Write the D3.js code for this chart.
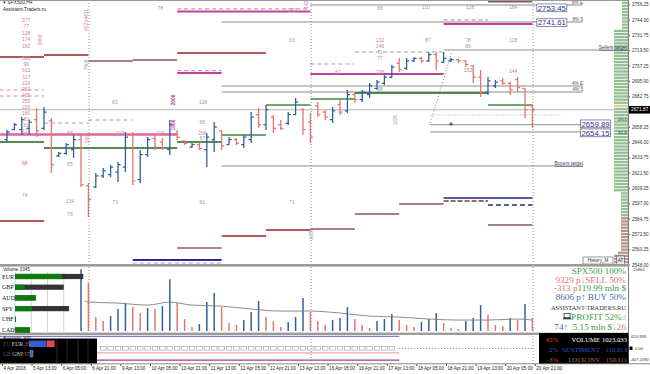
<!DOCTYPE html>
<html><head><meta charset="utf-8">
<script src="https://cdn.jsdelivr.net/npm/d3@7/dist/d3.min.js"></script>
<style>
html,body{margin:0;padding:0;background:#fff;overflow:hidden}
svg{display:block}
</style></head><body>
<svg id="chart" width="650" height="374" font-family="Liberation Sans, Arial, sans-serif"></svg>
<script>
// ================= DATA =================
const barOpen=[2648,2656,2656,2657,2664,2657,2663,2635,2637,2640,2648,2611,2610,2619,2620,2622,2626,2652,2616,2636,2649,2646,2640,2653,2647,2642,2644,2640,2648,2655,2644,2648,2644,2648,2668,2660,2666,2660,2661,2668,2672,2662,2675,2670,2664,2676,2671,2684,2680,2684,2689,2693,2698,2709,2705,2711,2713,2711,2716,2710,2711,2712,2711,2707,2698,2686,2691,2695,2693,2696,2689,2675];
const barHigh=[2655.7,2661.3,2666.1,2664,2673.3,2674.1,2665.3,2638.1,2645.3,2651.7,2651.7,2613.3,2621.3,2625.3,2627.7,2630.1,2654.1,2654.1,2639.7,2650.1,2651.7,2649.3,2663.7,2655.7,2647.7,2645.3,2645.3,2653.3,2662.1,2655.7,2650.1,2649.3,2651.7,2670.1,2673.3,2675.7,2667.7,2663.7,2670.1,2681.3,2673.3,2669.3,2678.1,2671.7,2674.1,2679.7,2687.7,2685.3,2687.7,2693.3,2695.7,2699.7,2707.7,2713.3,2713.3,2714.1,2714.1,2718.1,2718.1,2718.1,2713.3,2712.5,2711.7,2707.7,2703.7,2698.1,2695.7,2697.3,2694.1,2698.1,2689.3,2675.7];
const barLow=[2646.1,2655.7,2651.7,2652,2650.1,2655.7,2621.3,2634.1,2635.7,2633.3,2610.1,2586.1,2609.3,2617.3,2618.1,2614.1,2622.1,2611.7,2613.3,2634.1,2639.7,2639.7,2635.7,2647.7,2643.7,2641.3,2639.7,2626.1,2638.1,2639.7,2643.7,2643.7,2641.3,2645.3,2657.3,2655.7,2653.3,2655.7,2659.7,2667.7,2651.7,2645.3,2666.1,2663.7,2661.3,2667.7,2669.3,2677.3,2678.1,2681.3,2687.7,2691.7,2697.3,2702.1,2703.7,2710.1,2709.3,2710.1,2703.7,2709.3,2710.1,2709.3,2706.1,2693.3,2682.1,2683.7,2689.3,2691.7,2683.7,2686.1,2665.3,2657.3];
const barClose=[2654,2660,2664,2662,2655,2670,2628,2637,2644,2648,2612,2600,2619,2623,2626,2628,2650,2615,2636,2648,2642,2641,2660,2650,2645,2644,2641,2650,2658,2643,2648,2645,2650,2666,2660,2672,2657,2657,2668,2678,2656,2650,2668,2666,2671,2670,2684,2680,2686,2691,2694,2698,2706,2704,2711,2713,2711,2716,2711,2713,2712,2711,2708,2698,2686,2695,2694,2693,2688,2690,2672,2671.87];
const currentPrice=2671.87;

const volume=[6000,4000,5000,4500,7000,6500,11000,5000,4500,6000,15500,12000,3500,2500,3750,5500,7000,6000,4500,5750,5500,6250,13000,7000,3000,1000,1750,7250,9500,6000,2000,1500,2750,4750,7500,3500,2500,1000,2250,3500,8250,4750,2500,1500,2750,3250,6000,3000,1500,750,2500,3000,4250,2750,1500,1000,2250,3000,4500,2000,750,500,2500,3250,6500,4000,1500,1250,3250,2750,6750,3250];
const volumeDir=("dduudduuddu"+"ddduuu"+"dduduu"+"ddduuu"+"ddduuu"+"ddduuu"+"ddduuu"+"ddduuu"+"ddduuu"+"ddduuu"+"dddudud").split("");
const volumeMA=[[10.5,7500],[11,7250],[15,7000],[19,6500],[22,7250],[25,6500],[29,6250],[33,5500],[37,5000],[41,5000],[45,4500],[49,3750],[53,3500],[57,3000],[61,2750],[65,2750],[69,3000],[71,2750]];

const timeLabels=["4 Apr 2018","5 Apr 13:00","6 Apr 05:00","6 Apr 21:00","9 Apr 13:00","10 Apr 05:00","10 Apr 21:00","11 Apr 13:00","12 Apr 05:00","12 Apr 21:00","13 Apr 13:00","16 Apr 05:00","16 Apr 21:00","17 Apr 13:00","18 Apr 05:00","18 Apr 21:00","19 Apr 13:00","20 Apr 05:00","20 Apr 21:00"];
const priceTicks=[2756.25,2744.00,2731.75,2719.50,2707.25,2695.00,2682.75,2658.25,2646.00,2633.75,2621.50,2609.25,2597.00,2584.75,2572.50,2560.25,2548.00];

// horizontal level segments: [fromBar, toBar, price, style]
const levelSegments=[
 [-1,5,2714.1,"maroon"],[5,11,2715.7,"maroon"],[11,17,2710.9,"brown"],[17,23,2711.7,"brown"],[23,35,2717.3,"maroon"],
 [-1,5,2582.9,"maroon"],[23,29,2561.3,"brown"],[29,35,2570.9,"maroon"],[35,41,2575.7,"maroon"],[41,47,2576.5,"brown"],
 [47,53,2588.5,"brown"],[53,59,2596.5,"brown"],[59,65,2598.9,"brownDash"],[59,71,2601.3,"navy"],[65,71,2595.7,"navyDash"],
 [65,71,2579.7,"brown"],[17,29,2551.7,"navyThick"],[17,29,2549.3,"pinkDash"],
 [23,41,2750.5,"magenta"],[23,41,2752.6,"pinkDash"],[23,29,2701.3,"magenta"],[23,29,2703.2,"pinkDash"],
 [41,59,2700.5,"magenta"],[41,47,2708.5,"pinkDash"],[59,71,2740.5,"magenta"],[59,65,2743.8,"pinkDash"],
 [-1,23,2652.1,"pink"],[-1,5,2687.7,"pinkDash"],[-1,5,2682.9,"pinkDash"],[5,11,2661.3,"pinkDash"],[11,17,2663.7,"pinkDash"],
 [29,77.8,2742.1,"gray"],[41,77.8,2755.7,"gray"],[29,77.8,2690.9,"gray"],[29,77.8,2686.1,"gray"],
 [29,77.8,2626.9,"gray"],[59,84,2719.7,"gray"],[47,59,2718.1,"grayDash"],
 [57.2,77.8,2659.89,"gray"],[57.2,77.8,2654.15,"gray"],[57.2,75,2667.7,"grayDot"],
 [-1,5,2646.1,"dgreen"],[5,23,2641.3,"dgreen"],[23,29,2646.1,"dgreen"],[29,35,2651.7,"green"],
 [35,41,2675.7,"green"],[41,47,2680.5,"green"],[47,65,2685.3,"dgreen"],[65,71,2675.7,"green"],
 [65,71,2758.5,"brownThick"]
];
const diagonalLine=[[57.2,2661.3],[60.1,2718.1]];
const markerPoint=[60,2660.5];
const verticalMarks=[11.1,41.1,71.1];

const levelTags=[["8% E",2755.7],["8% 5",2742.1],["4% E",2690.9],["4% 5",2686.1]];
const priceBoxes=[[71.6,2753.45],[71.6,2741.61],[77.5,2659.89],[77.5,2654.15]];

// number annotations: [bar, price, text, colourKey]
const numberLabels=[
 [2.6,2743.7,"377","p"],[2.6,2738.9,"77","p"],[2.6,2733.3,"128","p"],[2.6,2728.5,"174","p"],[2.6,2722.9,"182","p"],
 [2.6,2713.3,"593","p"],[2.6,2708.5,"99","p"],[2.6,2703.7,"613","p"],[2.6,2698.1,"117","p"],[2.6,2693.3,"224","p"],
 [2.6,2688.5,"482","p"],[2.6,2683.7,"465","p"],[2.6,2678.9,"255","p"],[2.6,2674.1,"226","p"],[2.6,2669.3,"180","p"],
 [2.6,2664.5,"83","p"],[2.6,2659.7,"83","p"],[2.6,2654.9,"114","p"],
 [20.7,2753.3,"78","g"],[38.5,2751.7,"142","p"],[50.4,2753.3,"88","g"],[56.6,2754.1,"110","g"],[62.6,2754.1,"128","g"],[68.4,2754.1,"184","g"],
 [38.5,2727.7,"83","p"],[50.4,2727.7,"132","p"],[50.4,2722.9,"149","p"],[50.4,2718.1,"71","p"],[50.4,2713.3,"77","p"],
 [56.9,2727.7,"87","p"],[62.3,2727.7,"78","p"],[62.3,2722.9,"89","p"],[68.4,2727.7,"128","p"],
 [44.7,2702.1,"82","p"],[50.4,2702.1,"208","p"],[50.4,2688.5,"88","g"],[62.3,2703.7,"152","p"],[68.4,2702.9,"144","p"],
 [14.6,2678.1,"83","p"],[26.5,2678.1,"138","p"],[26.4,2662.1,"68","p"],[26.4,2653.3,"208","p"],[26.4,2649.3,"87","g"],
 [8.5,2653.3,"88","p"],[15.3,2653.3,"119","p"],[20.7,2653.3,"118","p"],
 [2.4,2629.3,"88","r"],[8.5,2628.5,"85","g"],[2.4,2603.7,"74","p"],[8.5,2598.9,"134","g"],[14.6,2598.1,"73","g"],
 [26.4,2598.1,"81","g"],[38.5,2598.1,"71","g"],[8.5,2588.5,"78","g"]
];
const verticalLabels=[
 [4.5,2727.7,"1993","p"],[10.7,2743.7,"#0214411","p"],[10.7,2707.7,"7906","g"],[22.4,2679.7,"2006","m"],
 [22.4,2659.7,"1006","m"],[10.8,2649.3,"1993","p"],[40.5,2756.0,"142","p"],[52.4,2663.7,"2/26","g"],[41.1,2571.7,"1/25","g"]
];

// volume profile rows (top price, step 2.5): width and side
const profileTop=2757.5, profileStep=2.5;
const profileWidth=[6,6,6,6,6,6,6,6,6,
 14,14,14,14,14,14,14,14,14,14,14,14,14,14,14,14,14,14,14,14,14,14,14,14,14,14,14,14,14,14,14,14,14,14,14,14,14,14,14,14,14,14,14,14,14,14,14,14,14,14,14,14,
 7,7,7,7,7,7,7,7, 7,7,7,7,7,7,7,7,7,7,7, 10,14,14,14,14];
const profileSide=("bbbbbbbbb"+"bbbbbbbbbbbbbbbbbbbbbbbb"+"h"+"bbbbbbbbbbbbbbbbbbbbbbbbbbb"+"bbbbbbbb"+"sssssssssss"+"sssss").split("");

// currency strength overlay
const currencies=["EUR","GBP","AUD","SPY","CHF","CAD"];
const currencyGreen=[72,15,32,26,1.5,23];
const currencyTotal=[105,75,32,83,1.5,23];

// info block
const infoLines=[
 [["SPX500 100%","#3f9a4c"]],
 [["9329 p\u2193SELL 50%","#e0737b"]],
 [["-313 p","#e0737b"],["119.99 mln $","#3f9a4c"]],
 [["8606 p\u2191 BUY 50%","#3f6bb0"]],
 [["ASSISTANT-TRADERS.RU","#333"]],
 [["PROFIT 52%","#3f9a4c"],["\u261D","#666"]],
 [["74\u2191","#3f6bb0"],["  5.15 mln $","#3f9a4c"],["\u219326","#e0737b"]]
];
const statRows=[["45%","VOLUME","1023.033","#e03a3a","#ffffff","#ffffff"],
 ["2%","SENTIMENT","110.013","#3355cc","#3355cc","#3355cc"],
 ["-3%","LOCK INV","150.111","#e03a3a","#a07048","#a07048"]];

// ================= CHART =================
const SERIF="Liberation Serif, Times New Roman, serif";
const svg=d3.select("#chart");
const xS=d3.scaleLinear().domain([0,71]).range([7,532.4]);
const yS=d3.scaleLinear().domain([2548,2756.25]).range([264.6,4.31]);
const yV=d3.scaleLinear().domain([0,15801]).range([331,268]);
const UP="#2f5f9f", DN="#e4766f";
const labelCol={p:"#c2889f",g:"#9a9ab4",m:"#c0479a",r:"#d07070"};
const segStyle={
 maroon:{c:"#9c1f24",w:1.6},brown:{c:"#8e5656",w:1.6},brownThick:{c:"#8e5656",w:2},
 brownDash:{c:"#9a6a6a",w:2,d:"5,2"},navy:{c:"#23238e",w:1.6},navyDash:{c:"#23238e",w:1.6,d:"5,3"},
 navyThick:{c:"#28289a",w:2},magenta:{c:"#c23f9e",w:2},pinkDash:{c:"#d58ab8",w:1.2,d:"4,3"},
 pink:{c:"#e0649f",w:2.5},gray:{c:"#8c8c8c",w:1},grayDash:{c:"#a0a0a0",w:1,d:"4,3"},
 grayDot:{c:"#a8a8a8",w:1,d:"1,2"},dgreen:{c:"#1e641e",w:1.5},green:{c:"#3f8a3f",w:1.5}
};
const boxNudge=[0,0,-0.9,0.9];

svg.append("rect").attr("width",650).attr("height",374).attr("fill","#fff");
const defs=svg.append("defs");
defs.append("clipPath").attr("id","mainClip").append("rect").attr("x",0).attr("y",0).attr("width",628).attr("height",264);
defs.append("clipPath").attr("id","volClip").append("rect").attr("x",0).attr("y",267).attr("width",628).attr("height",66);

const main=svg.append("g").attr("clip-path","url(#mainClip)");

// profile
main.append("g").selectAll("rect").data(profileWidth).join("rect")
 .attr("x",d=>628-d).attr("y",(d,i)=>yS(profileTop-i*profileStep)-1.15)
 .attr("width",d=>d).attr("height",2.3)
 .attr("fill",(d,i)=>profileSide[i]==="s"?"#b99292":profileSide[i]==="h"?"#d6d69a":"#93bf93");

// bid line
main.append("line").attr("x1",0).attr("x2",628).attr("y1",yS(currentPrice)).attr("y2",yS(currentPrice))
 .attr("stroke","#b5b5b5").attr("stroke-width",1);

// level segments
main.append("g").selectAll("line").data(levelSegments).join("line")
 .attr("x1",d=>xS(d[0])).attr("x2",d=>xS(d[1])).attr("y1",d=>yS(d[2])).attr("y2",d=>yS(d[2]))
 .attr("stroke",d=>segStyle[d[3]].c).attr("stroke-width",d=>segStyle[d[3]].w)
 .attr("stroke-dasharray",d=>segStyle[d[3]].d||null);

main.append("line").attr("x1",xS(diagonalLine[0][0])).attr("y1",yS(diagonalLine[0][1]))
 .attr("x2",xS(diagonalLine[1][0])).attr("y2",yS(diagonalLine[1][1]))
 .attr("stroke","#666").attr("stroke-width",0.8).attr("stroke-dasharray","1,2");
main.append("path").attr("d",`M${xS(markerPoint[0])-2},${yS(markerPoint[1])}h4M${xS(markerPoint[0])},${yS(markerPoint[1])-2}v4`)
 .attr("stroke","#333").attr("stroke-width",0.8);

// vertical dotted markers (full height)
svg.append("g").selectAll("line").data(verticalMarks).join("line")
 .attr("x1",d=>xS(d)).attr("x2",d=>xS(d)).attr("y1",0).attr("y2",364)
 .attr("stroke","#777").attr("stroke-width",0.8).attr("stroke-dasharray","1,2");

// OHLC bars
main.append("g").selectAll("path").data(barOpen).join("path")
 .attr("d",(o,i)=>{const x=xS(i);return `M${x},${yS(barHigh[i])}V${yS(barLow[i])}M${x-2.6},${yS(o)}H${x}M${x},${yS(barClose[i])}H${x+2.6}`;})
 .attr("stroke",(o,i)=>barClose[i]>=o?UP:DN).attr("stroke-width",1.3).attr("fill","none");

// number labels
main.append("g").selectAll("text").data(numberLabels).join("text")
 .attr("x",d=>xS(d[0])).attr("y",d=>yS(d[1])).attr("dy","0.35em").attr("text-anchor","middle")
 .attr("font-size",5).attr("fill",d=>labelCol[d[3]]).text(d=>d[2]);
main.append("g").selectAll("text").data(verticalLabels).join("text")
 .attr("transform",d=>`translate(${xS(d[0])},${yS(d[1])}) rotate(-90)`).attr("dy","0.35em").attr("text-anchor","middle")
 .attr("font-size",5).attr("fill",d=>labelCol[d[3]]).attr("font-weight",d=>d[3]==="m"?"bold":null).text(d=>d[2]);

// level tags
main.append("g").selectAll("text").data(levelTags).join("text")
 .attr("x",583).attr("y",d=>yS(d[1])-1).attr("text-anchor","end").attr("font-size",4.6).attr("fill","#555").text(d=>d[0]);
main.append("text").attr("x",583).attr("y",yS(2626.9)-1).attr("text-anchor","end").attr("font-size",4.8)
 .attr("fill","#3a3a6a").attr("text-decoration","underline").text("Buyers target");
main.append("text").attr("x",627).attr("y",yS(2719.7)-0.8).attr("text-anchor","end").attr("font-size",4.8)
 .attr("fill","#3a3a5a").attr("text-decoration","underline").text("Sellers target");
main.append("text").attr("x",627).attr("y",yS(2662.8)).attr("text-anchor","end").attr("font-size",3.8).attr("fill","#333").text("4%.5");
main.append("text").attr("x",627).attr("y",yS(2652.4)).attr("text-anchor","end").attr("font-size",3.8).attr("fill","#333").text("4%.E");

// price boxes
const pb=main.append("g").selectAll("g").data(priceBoxes).join("g")
 .attr("transform",(d,i)=>`translate(${xS(d[0])},${yS(d[1])+boxNudge[i]})`);
pb.append("rect").attr("x",0).attr("y",-3.9).attr("width",30).attr("height",7.8).attr("fill","#fff").attr("stroke","#6a6aa8").attr("stroke-width",0.8);
pb.append("text").attr("x",15).attr("y",2.8).attr("text-anchor","middle").attr("font-size",7.8).attr("fill","#2c3770").text(d=>d[1].toFixed(2));

// history button
svg.append("rect").attr("x",583).attr("y",257).attr("width",30).attr("height",7).attr("fill","#fff").attr("stroke","#555").attr("stroke-width",0.6);
svg.append("text").attr("x",598).attr("y",262.4).attr("text-anchor","middle").attr("font-size",4.6).attr("fill","#333").text("History_M");
svg.append("rect").attr("x",616.5).attr("y",256).attr("width",8).attr("height",8.5).attr("fill","#e8e8e8").attr("stroke","#555").attr("stroke-width",0.6);
svg.append("text").attr("x",620.5).attr("y",262).attr("text-anchor","middle").attr("font-size",4.6).attr("fill","#222").text("AT");

// header
svg.append("text").attr("x",3).attr("y",4).attr("font-size",4.8).attr("fill","#222").text("\u25BE SPX500,H4");
svg.append("text").attr("x",3).attr("y",11).attr("font-size",4.8).attr("fill","#222").text("Assistant-Traders.ru");
svg.append("line").attr("x1",0).attr("x2",628).attr("y1",0.5).attr("y2",0.5).attr("stroke","#999");

// price axis
const pAxis=svg.append("g").attr("transform","translate(628,0)").call(d3.axisRight(yS).tickValues(priceTicks).tickSize(2).tickFormat(d=>d.toFixed(2)));
pAxis.select(".domain").remove();
pAxis.attr("font-family",null).attr("font-size",null);
pAxis.selectAll("text").attr("font-size",4.6).attr("fill","#333").attr("x",4);
pAxis.selectAll("line").attr("stroke","#666");
svg.append("line").attr("x1",628.5).attr("x2",628.5).attr("y1",0).attr("y2",364).attr("stroke","#777");
svg.append("rect").attr("x",629).attr("y",yS(currentPrice)-3.8).attr("width",21).attr("height",7.6).attr("fill","#000");
svg.append("text").attr("x",631).attr("y",yS(currentPrice)+1.7).attr("font-size",4.8).attr("fill","#fff").text(currentPrice.toFixed(2));

// panel separators
svg.append("rect").attr("x",0).attr("y",264).attr("width",629).attr("height",2.6).attr("fill","#9a9a9a");
svg.append("rect").attr("x",0).attr("y",332.6).attr("width",629).attr("height",2.4).attr("fill","#9a9a9a");
svg.append("line").attr("x1",0).attr("x2",650).attr("y1",363.8).attr("y2",363.8).attr("stroke","#888");

// ====== volume panel ======
const vol=svg.append("g").attr("clip-path","url(#volClip)");
vol.append("g").selectAll("line").data(volume).join("line")
 .attr("x1",(d,i)=>xS(i)).attr("x2",(d,i)=>xS(i)).attr("y1",yV(0)).attr("y2",d=>yV(d))
 .attr("stroke",(d,i)=>volumeDir[i]==="u"?UP:DN).attr("stroke-width",1.5);
vol.append("path").datum(volumeMA).attr("d",d3.line().x(d=>xS(d[0])).y(d=>yV(d[1])).curve(d3.curveMonotoneX))
 .attr("fill","none").attr("stroke","#8a7c74").attr("stroke-width",0.9);

// currency overlay
const cs=d3.scaleLinear().domain([0,100]).range([15,80]);
const ov=svg.append("g");
ov.append("rect").attr("x",0).attr("y",272).attr("width",79.5).attr("height",60).attr("fill","#fff");
ov.append("g").selectAll("line").data([0,25,50,75]).join("line")
 .attr("x1",d=>cs(d)).attr("x2",d=>cs(d)).attr("y1",272).attr("y2",332).attr("stroke","#c8c8c8").attr("stroke-width",0.8);
const rowY=d3.scalePoint().domain(currencies).range([276.5,330]);
ov.append("g").selectAll("rect").data(currencies).join("rect")
 .attr("x",cs(0)).attr("y",d=>rowY(d)-2.6).attr("height",5.2).attr("width",(d,i)=>cs(currencyTotal[i])-cs(0)).attr("fill","#333");
ov.append("g").selectAll("rect").data(currencies).join("rect")
 .attr("x",cs(0)).attr("y",d=>rowY(d)-2.6).attr("height",5.2).attr("width",(d,i)=>cs(currencyGreen[i])-cs(0)).attr("fill","#0d7a0d");
ov.append("g").selectAll("text").data(currencies).join("text")
 .attr("x",2).attr("y",d=>rowY(d)+2).attr("font-size",6).attr("font-family",SERIF).attr("fill","#111").text(d=>d);
svg.append("text").attr("x",3).attr("y",271).attr("font-size",4.6).attr("fill","#222").text("Volume 3345");
svg.append("text").attr("x",633).attr("y",271).attr("font-size",4.4).attr("fill","#333").text("15801");

// info block
const info=svg.append("g").attr("font-family",SERIF);
const infoY=[273.5,282.5,291.2,300.4,309.5,320,329.5];
let profitText=null;
infoLines.forEach((parts,k)=>{
  const t=info.append("text").attr("x",626).attr("y",infoY[k]).attr("text-anchor","end")
   .attr("font-size",k===4?6.4:9.2).attr("xml:space","preserve");
  parts.forEach(p=>{const s=t.append("tspan").attr("fill",p[1]).text(p[0]); if(p[0]==="\u261D") s.attr("font-family","DejaVu Sans").attr("font-size",7);});
  if(k===5) profitText=t;
});
const pbb=profitText.node().getBBox();
const lx=pbb.x-8;
info.append("rect").attr("x",lx+1).attr("y",infoY[5]-6.5).attr("width",6).attr("height",4.2).attr("fill","none").attr("stroke","#333").attr("stroke-width",0.8);
info.append("rect").attr("x",lx).attr("y",infoY[5]-2).attr("width",8).attr("height",1.3).attr("fill","#333");

// ====== SNT panel ======
svg.append("line").attr("x1",0).attr("x2",xS(53)).attr("y1",336.3).attr("y2",336.3).attr("stroke","#5a5ac8").attr("stroke-width",1);
svg.append("text").attr("x",3).attr("y",338.5).attr("font-size",4.4).attr("fill","#333").text("Assistant_SNT");
svg.append("rect").attr("x",0).attr("y",338.5).attr("width",97).attr("height",24.8).attr("fill","#000");
svg.append("g").selectAll("line").data([57,67,78,88]).join("line")
 .attr("x1",d=>d).attr("x2",d=>d).attr("y1",339).attr("y2",363).attr("stroke","#333").attr("stroke-width",0.8);
svg.append("rect").attr("x",29).attr("y",340.5).attr("width",17).attr("height",6.5).attr("fill","#2f5fd0");
svg.append("rect").attr("x",46.5).attr("y",340.5).attr("width",8).attr("height",6.5).attr("fill","#e04a55");
svg.append("rect").attr("x",30).attr("y",350.5).attr("width",3).attr("height",6.5).attr("fill","#2f5fd0").attr("stroke","#999").attr("stroke-width",0.5);
const s1=svg.append("text").attr("x",3).attr("y",346).attr("font-size",5.6).attr("font-family",SERIF);
s1.append("tspan").attr("fill","#44507a").text("EU ");s1.append("tspan").attr("fill","#ddd").text("EUR");s1.append("tspan").attr("fill","#e05a30").text(".35");
const s2=svg.append("text").attr("x",3).attr("y",356).attr("font-size",5.6).attr("font-family",SERIF);
s2.append("tspan").attr("fill","#44507a").text("GB ");s2.append("tspan").attr("fill","#bbb").text("GBP");s2.append("tspan").attr("fill","#e05a30").text(".37");
const sntBars=d3.range(13,53);
svg.append("g").selectAll("rect").data(sntBars).join("rect")
 .attr("x",d=>xS(d)-2.8).attr("y",346.5).attr("width",5.6).attr("height",3.6).attr("fill","none").attr("stroke","#888").attr("stroke-width",0.5);
svg.append("line").attr("x1",xS(53)).attr("x2",xS(71.2)).attr("y1",348.5).attr("y2",348.5).attr("stroke","#888").attr("stroke-dasharray","1,2");
svg.append("line").attr("x1",97).attr("x2",xS(53)).attr("y1",352.8).attr("y2",352.8).attr("stroke","#f0a3b6").attr("stroke-width",1.3);
svg.append("line").attr("x1",97).attr("x2",xS(53)).attr("y1",360.2).attr("y2",360.2).attr("stroke","#b2338e").attr("stroke-width",1.3);

// stats box
svg.append("rect").attr("x",539).attr("y",333).attr("width",89.5).attr("height",30.5).attr("fill","#000");
const sr=svg.append("g").attr("font-family",SERIF).attr("font-size",6.7).selectAll("g").data(statRows).join("g").attr("transform",(d,i)=>`translate(0,${341.5+i*10})`);
sr.append("text").attr("x",558).attr("text-anchor","end").attr("fill",d=>d[3]).text(d=>d[0]);
sr.append("text").attr("x",600).attr("text-anchor","end").attr("fill",d=>d[4]).text(d=>d[1]);
sr.append("text").attr("x",627).attr("text-anchor","end").attr("fill",d=>d[5]).text(d=>d[2]);
svg.append("text").attr("x",631).attr("y",338).attr("font-size",4.2).attr("fill","#333").text("620.993");
svg.append("rect").attr("x",629.5).attr("y",346.5).attr("width",3).attr("height",3.5).attr("fill","#000");
svg.append("text").attr("x",635).attr("y",350).attr("font-size",4.2).attr("fill","#333").text("0.00");
svg.append("text").attr("x",630).attr("y",361).attr("font-size",4.2).attr("fill","#333").text("-407.2490");

// time axis
const tAxis=svg.append("g").attr("transform","translate(-5,364)")
 .call(d3.axisBottom(xS).tickValues(d3.range(0,73,4)).tickSize(2).tickFormat((d,i)=>timeLabels[i]));
tAxis.select(".domain").remove();
tAxis.attr("font-family",null).attr("font-size",null);
tAxis.selectAll("line").attr("stroke","#555");
tAxis.selectAll("text").attr("text-anchor","start").attr("x",1).attr("y",3.2).attr("dy","0.7em").attr("font-size",4.6).attr("fill","#222");
</script></body></html>
